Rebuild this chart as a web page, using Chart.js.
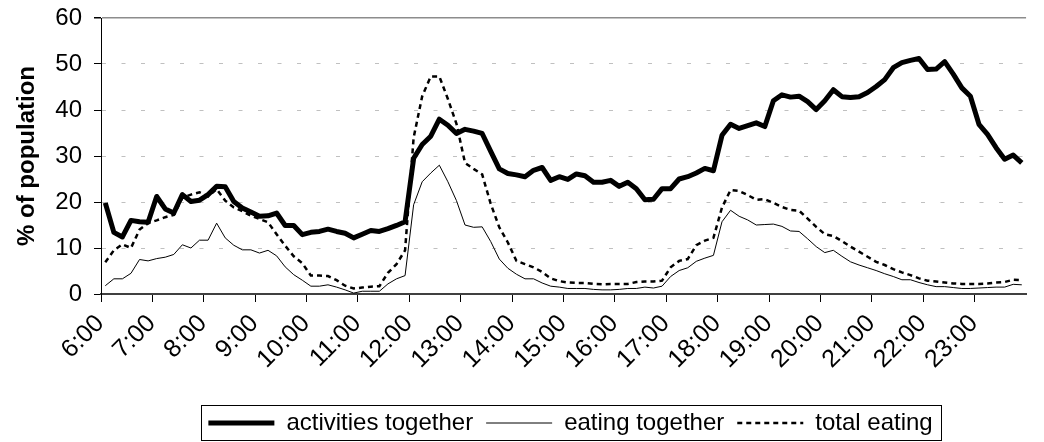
<!DOCTYPE html>
<html lang="en">
<head>
<meta charset="UTF-8" />
<title>Activities and eating together</title>
<script src="https://cdn.jsdelivr.net/npm/chart.js"></script>
<style>
  html, body { margin: 0; padding: 0; background: #fff; overflow: hidden; }
  .wrap { width: 1044px; height: 442px; overflow: hidden; }
</style>
</head>
<body>
<div class="wrap"><canvas id="timeChart" width="1050" height="448"></canvas></div>
<script>
  // hourly tick labels, data are in 10 minute steps
  const hours = ['6:00', '7:00', '8:00', '9:00', '10:00', '11:00', '12:00', '13:00', '14:00',
    '15:00', '16:00', '17:00', '18:00', '19:00', '20:00', '21:00', '22:00', '23:00'];
  const minuteSlots = ['00', '10', '20', '30', '40', '50'];
  const times = hours.flatMap((h) => minuteSlots.map((m) => h.replace(':00', ':' + m)));

  const activitiesTogether = [
    19.8, 13.4, 12.4, 16.0, 15.7, 15.6, 21.2, 18.5, 17.6, 21.6,
    20.1, 20.4, 21.6, 23.4, 23.3, 20.1, 18.7, 17.8, 16.9, 17.0,
    17.6, 14.9, 14.9, 12.9, 13.4, 13.6, 14.1, 13.6, 13.2, 12.2,
    13.0, 13.8, 13.6, 14.2, 14.9, 15.7, 29.5, 32.5, 34.3, 38.0,
    36.7, 34.9, 35.8, 35.4, 34.9, 31.0, 27.2, 26.2, 25.9, 25.5,
    26.9, 27.5, 24.7, 25.5, 24.9, 26.1, 25.7, 24.3, 24.3, 24.7,
    23.4, 24.3, 22.9, 20.5, 20.6, 22.9, 22.9, 25.0, 25.5, 26.3,
    27.3, 26.8, 34.5, 36.9, 36.0, 36.6, 37.2, 36.4, 42.0, 43.3,
    42.8, 43.0, 41.8, 40.1, 42.0, 44.4, 42.9, 42.7, 42.9, 43.8,
    45.1, 46.6, 49.2, 50.3, 50.8, 51.2, 48.8, 48.9, 50.5, 47.8,
    44.8, 43.0, 36.9, 34.7, 31.8, 29.3, 30.2, 28.5
  ];
  const eatingTogether = [
    1.8, 3.3, 3.3, 4.5, 7.5, 7.2, 7.7, 8.0, 8.6, 10.7,
    10.0, 11.7, 11.7, 15.4, 12.2, 10.6, 9.6, 9.6, 8.9, 9.5,
    8.3, 5.9, 4.2, 3.0, 1.7, 1.7, 2.0, 1.5, 0.9, 0.2,
    0.6, 0.6, 0.6, 2.2, 3.3, 4.0, 19.4, 24.4, 26.3, 28.0,
    24.4, 20.3, 15.0, 14.5, 14.6, 11.4, 7.6, 5.6, 4.3, 3.3,
    3.3, 2.4, 1.7, 1.5, 1.2, 1.2, 1.2, 1.0, 0.9, 0.9,
    1.0, 1.2, 1.2, 1.5, 1.3, 1.7, 3.8, 5.1, 5.7, 7.1,
    7.8, 8.4, 15.7, 18.2, 16.9, 16.1, 15.0, 15.1, 15.2, 14.7,
    13.7, 13.6, 12.0, 10.3, 9.0, 9.5, 8.2, 7.0, 6.3, 5.7,
    5.1, 4.4, 3.8, 3.1, 3.1, 2.5, 2.0, 1.6, 1.6, 1.4,
    1.2, 1.2, 1.3, 1.4, 1.5, 1.5, 2.1, 2.0
  ];
  const totalEating = [
    6.9, 9.5, 10.8, 10.0, 14.0, 15.4, 16.0, 16.7, 17.2, 20.9,
    21.6, 22.1, 21.2, 22.8, 20.3, 18.8, 18.0, 17.0, 16.3, 15.6,
    13.0, 10.5, 8.2, 6.7, 4.0, 4.0, 3.9, 3.0, 1.8, 1.2,
    1.4, 1.6, 1.7, 4.6, 6.5, 9.5, 34.0, 43.0, 47.3, 47.3,
    42.4, 37.0, 28.5, 27.2, 26.0, 19.6, 14.5, 11.2, 7.2, 6.5,
    5.8, 4.8, 3.4, 2.8, 2.5, 2.4, 2.4, 2.2, 2.1, 2.2,
    2.2, 2.2, 2.6, 2.7, 2.7, 2.9, 5.8, 7.2, 7.6, 10.6,
    11.6, 12.2, 18.8, 22.6, 22.4, 21.5, 20.5, 20.6, 19.8, 18.9,
    18.3, 18.1, 16.4, 14.6, 13.0, 12.6, 11.5, 10.3, 9.2, 8.1,
    7.0, 6.3, 5.4, 4.7, 4.1, 3.4, 2.9, 2.7, 2.5, 2.3,
    2.2, 2.2, 2.2, 2.3, 2.5, 2.6, 3.1, 3.0
  ];

  Chart.defaults.font.family = "'Liberation Sans', Arial, sans-serif";
  Chart.defaults.color = '#000';

  // box round the legend, like the spreadsheet one
  const legendFrame = {
    id: 'legendFrame',
    afterLayout(chart) {
      // the row width counts a trailing gap, so nudge it back to the centre
      chart.legend.left += 7;
      chart.legend.right += 7;
    },
    afterDraw(chart) {
      const boxes = chart.legend.legendHitBoxes;
      if (!boxes || !boxes.length) return;
      const ctx = chart.ctx;
      const left = Math.min(...boxes.map((b) => b.left)) - 7;
      const right = Math.max(...boxes.map((b) => b.left + b.width)) + 9;
      const mid = boxes[0].top + boxes[0].height / 2;
      ctx.save();
      ctx.strokeStyle = '#000';
      ctx.lineWidth = 1;
      ctx.strokeRect(Math.round(left) + 0.5, Math.round(mid - 18) + 0.5, Math.round(right - left), 35);
      ctx.restore();
    },
  };

  new Chart(document.getElementById('timeChart'), {
    type: 'line',
    data: {
      labels: times,
      datasets: [
        {
          label: 'activities together',
          data: activitiesTogether,
          borderColor: '#000',
          borderWidth: 5,
          borderJoinStyle: 'round',
          pointRadius: 0,
          tension: 0,
        },
        {
          label: 'eating together',
          data: eatingTogether,
          borderColor: '#000',
          borderWidth: 1,
          pointRadius: 0,
          tension: 0,
        },
        {
          label: 'total eating',
          data: totalEating,
          borderColor: '#000',
          borderWidth: 2.5,
          borderDash: [5, 4],
          pointRadius: 0,
          tension: 0,
        },
      ],
    },
    options: {
      responsive: false,
      animation: false,
      devicePixelRatio: 1,
      layout: { padding: { top: 18, right: 1, bottom: 3, left: 0 } },
      plugins: {
        tooltip: { enabled: false },
        legend: {
          position: 'bottom',
          fullSize: false,
          labels: {
            usePointStyle: true,
            pointStyle: 'line',
            pointStyleWidth: 66,
            padding: 13,
            font: { size: 24 },
            // point style drops the dash, so copy it back from the dataset
            generateLabels: (chart) =>
              Chart.defaults.plugins.legend.labels.generateLabels(chart).map((item) => {
                const ds = chart.data.datasets[item.datasetIndex];
                return { ...item, lineDash: ds.borderDash || [], lineWidth: ds.borderWidth };
              }),
          },
        },
      },
      scales: {
        x: {
          type: 'category',
          offset: true,
          grid: {
            offset: true,
            drawOnChartArea: false,
            tickLength: 8,
            tickWidth: 1,
            tickColor: (c) => (c.index % 6 === 0 ? '#000' : 'rgba(0,0,0,0)'),
          },
          border: { color: '#404040', width: 2 },
          ticks: {
            autoSkip: false,
            minRotation: 45,
            maxRotation: 45,
            padding: 7,
            labelOffset: -5,
            font: { size: 25 },
            callback: (v, i) => (i % 6 === 0 ? hours[i / 6] : ''),
          },
          afterFit: (s) => { s.height = 104; },
        },
        y: {
          min: 0,
          max: 60,
          ticks: { stepSize: 10, padding: 12, font: { size: 24 } },
          grid: {
            color: (c) => (c.tick.value === 0 ? 'rgba(0,0,0,0)' : c.tick.value === 60 ? '#8c8c8c' : '#c0c0c0'),
            lineWidth: (c) => (c.tick.value === 60 ? 1.5 : 1),
            tickColor: '#000',
            tickLength: 7,
          },
          border: {
            color: '#000',
            width: 1,
            dash: (c) => (c.tick && c.tick.value === 60 ? [] : [4, 15.5]),
          },
          title: {
            display: true,
            text: '% of population',
            font: { size: 24, weight: 'bold' },
            padding: { top: 13, bottom: 0 },
          },
          afterFit: (s) => {
            s.width = 101;
            s.paddingTop = 0;
            s.paddingBottom = 0;
          },
        },
      },
    },
    plugins: [legendFrame],
  });
</script>
</body>
</html>
